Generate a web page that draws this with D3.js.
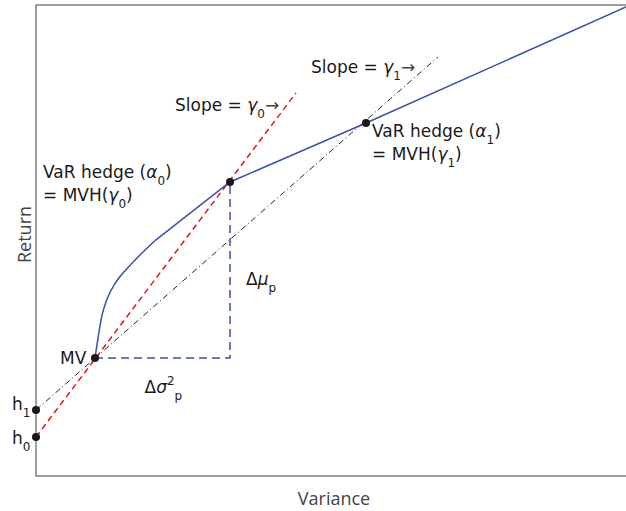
<!DOCTYPE html>
<html>
<head>
<meta charset="utf-8">
<script src="https://cdn.jsdelivr.net/npm/d3@7"></script>
<style>
  body { margin: 0; background: #fff; }
  svg text { font-family: "DejaVu Sans", sans-serif; }
</style>
</head>
<body>
<svg id="chart"></svg>
<script>
// frontier (variance, return), normalised units
const frontierVar = [0.099, 0.1015, 0.1045, 0.1102, 0.1186, 0.1354, 0.1522, 0.1745, 0.1997, 0.3255, 0.5537, 0.990];
const frontierRet = [0.2505, 0.2718, 0.2958, 0.3382, 0.3737, 0.414, 0.4395, 0.4692, 0.4996, 0.6242, 0.7495, 0.9958];
const curvedCount = 9; // first points form the curved part, the rest are straight

// key points
const pointNames = ["MV", "alpha0", "alpha1", "h0", "h1"];
const pointVar = [0.099, 0.3255, 0.5537, 0, 0];
const pointRet = [0.2505, 0.6242, 0.7495, 0.0828, 0.1401];

// tangent lines: start (intercept) and end
const gamma0Line = { v: [0, 0.4362], r: [0.0828, 0.8132] };
const gamma1Line = { v: [0, 0.6745], r: [0.1401, 0.8896] };

const W = 626, H = 511;
const margin = { top: 5, right: -6, bottom: 35, left: 36 };
const width = W - margin.left - margin.right;
const height = H - margin.top - margin.bottom;

const svg = d3.select("#chart").attr("width", W).attr("height", H);
const g = svg.append("g").attr("transform", `translate(${margin.left},${margin.top})`);

const x = d3.scaleLinear().domain([0, 1]).range([0, width]);
const y = d3.scaleLinear().domain([0, 1]).range([height, 0]);

const pts = pointNames.map((n, i) => ({ name: n, v: pointVar[i], r: pointRet[i] }));
const P = Object.fromEntries(pts.map(d => [d.name, d]));

const line = d3.line().x(d => x(d[0])).y(d => y(d[1]));

// frame (left, top, bottom)
g.append("path")
  .attr("d", `M${width},0H0V${height}H${width}`)
  .attr("fill", "none").attr("stroke", "#808080").attr("stroke-width", 1.5);

// delta dashed (blue)
g.append("path")
  .attr("d", line([[P.MV.v, P.MV.r], [P.alpha0.v, P.MV.r], [P.alpha0.v, P.alpha0.r]]))
  .attr("fill", "none").attr("stroke", "#3a50a8").attr("stroke-width", 1.5)
  .attr("stroke-dasharray", "8,5");

// gamma1 dash-dot line
g.append("path")
  .attr("d", line(d3.zip(gamma1Line.v, gamma1Line.r)))
  .attr("fill", "none").attr("stroke", "#222").attr("stroke-width", 1)
  .attr("stroke-dasharray", "6,3,1,3");

// gamma0 red dashed line
g.append("path")
  .attr("d", line(d3.zip(gamma0Line.v, gamma0Line.r)))
  .attr("fill", "none").attr("stroke", "#e8141c").attr("stroke-width", 1.5)
  .attr("stroke-dasharray", "6,4");

// frontier: smoothed curved part, then straight segments
const frontier = d3.zip(frontierVar, frontierRet);
g.append("path")
  .attr("d", d3.line().x(d => x(d[0])).y(d => y(d[1])).curve(d3.curveMonotoneX)(frontier.slice(0, curvedCount)))
  .attr("fill", "none").attr("stroke", "#3a50a8").attr("stroke-width", 1.5);
g.append("path")
  .attr("d", line(frontier.slice(curvedCount - 1)))
  .attr("fill", "none").attr("stroke", "#3a50a8").attr("stroke-width", 1.5);

// points
g.selectAll("circle.pt")
  .data(pts)
  .enter().append("circle")
  .attr("class", "pt")
  .attr("cx", d => x(d.v)).attr("cy", d => y(d.r))
  .attr("r", 4).attr("fill", "#1a1a1a");

// text helper with subscripts/superscripts: parts = [[text, kind]]
function label(px, py, parts, size = 17) {
  const t = g.append("text").attr("x", px).attr("y", py)
    .style("font-size", size + "px").attr("fill", "#1a1a1a");
  let shift = 0;
  parts.forEach(([s, kind]) => {
    const ts = t.append("tspan").text(s);
    let target = 0, fs = size;
    if (kind === "sub") { target = 7; fs = 12; }
    else if (kind === "sup") { target = -8; fs = 12; }
    else if (kind === "it") { ts.style("font-style", "italic"); }
    else if (kind === "arrow") { ts.attr("fill", "#444"); }
    ts.attr("dy", target - shift).style("font-size", fs + "px");
    shift = target;
  });
  return t;
}

const MVx = x(P.MV.v), MVy = y(P.MV.r);
const a0x = x(P.alpha0.v), a0y = y(P.alpha0.r);
const a1x = x(P.alpha1.v), a1y = y(P.alpha1.r);

label(a0x - 55, a0y - 71, [["Slope = ", ""], ["γ", "it"], ["0", "sub"], ["→", "arrow"]]);
label(a1x - 55, a1y - 50, [["Slope = ", ""], ["γ", "it"], ["1", "sub"], ["→", "arrow"]]);
label(a0x - 187, a0y - 4, [["VaR hedge (", ""], ["α", "it"], ["0", "sub"], [")", ""]]);
label(a0x - 187, a0y + 19, [["= MVH(", ""], ["γ", "it"], ["0", "sub"], [")", ""]]);
label(a1x + 6, a1y + 14, [["VaR hedge (", ""], ["α", "it"], ["1", "sub"], [")", ""]]);
label(a1x + 6, a1y + 37, [["= MVH(", ""], ["γ", "it"], ["1", "sub"], [")", ""]]);
label(MVx - 35, MVy + 6, [["MV", ""]]);
label(x(0) - 24, y(P.h1.r) + 0, [["h", ""], ["1", "sub"]]);
label(x(0) - 24, y(P.h0.r) + 7, [["h", ""], ["0", "sub"]]);
label(a0x + 16, (MVy + a0y) / 2 + 15, [["Δ", ""], ["μ", "it"], ["p", "sub"]]);
label((MVx + a0x) / 2 - 18, MVy + 35, [["Δ", ""], ["σ", "it"], ["2", "sup"], ["p", "sub"]]);

// axis titles
svg.append("text")
  .attr("x", 334).attr("y", H - 6)
  .attr("text-anchor", "middle")
  .style("font-family", "'Open Sans', sans-serif")
  .style("font-size", "18px").attr("fill", "#444")
  .text("Variance");

svg.append("text")
  .attr("transform", `translate(31,${margin.top + height / 2 - 6}) rotate(-90)`)
  .attr("text-anchor", "middle")
  .style("font-family", "'Open Sans', sans-serif")
  .style("font-size", "18px").attr("fill", "#444")
  .text("Return");
</script>
</body>
</html>
